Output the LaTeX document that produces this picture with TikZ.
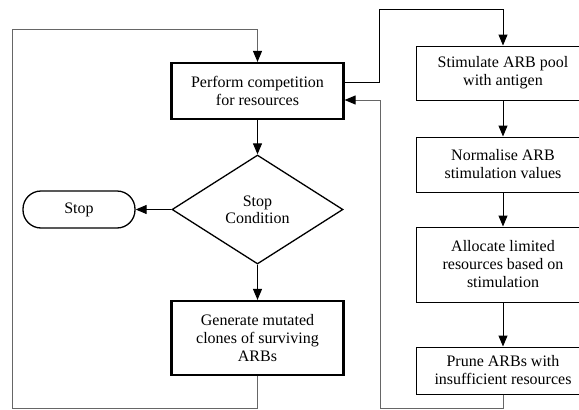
\documentclass[tikz,border=0pt]{standalone}
\usepackage{fontspec}
\setmainfont{Liberation Serif}
\usepackage{tikz}
\usetikzlibrary{shapes.geometric, arrows.meta}
\tikzstyle{process} = [rectangle, draw, line width=1pt, align=center, inner sep=0pt, minimum width=174pt, font=\fontsize{16}{18}\selectfont]
\tikzstyle{mainproc} = [rectangle, draw, line width=2.2pt, align=center, inner sep=0pt, minimum width=172pt, font=\fontsize{16}{18}\selectfont]
\tikzstyle{decision} = [diamond, draw, line width=1.3pt, align=center, inner sep=0pt, minimum width=171pt, minimum height=109pt, font=\fontsize{16}{17}\selectfont]
\tikzstyle{terminal} = [rectangle, rounded corners=18pt, draw, line width=1.3pt, inner sep=0pt, minimum width=112pt, minimum height=37pt, font=\fontsize{16}{18}\selectfont]
\tikzstyle{arrow} = [line width=1pt,-{Triangle[length=11pt,width=9pt]}]
\tikzstyle{loopline} = [arrow, draw=black!60, -{Triangle[length=11pt,width=9pt,fill=black,color=black]}]

\begin{document}
\begin{tikzpicture}[x=1pt, y=-1pt]
            \useasboundingbox (0,0) rectangle (579,410);
            \clip (0,0) rectangle (579,410);
            % left column
            \node[mainproc, minimum height=56pt] (perform) at (257.5,91) {Perform competition\\for resources};
            \node[decision] (cond) at (257.5,209.5) {Stop\\Condition};
            \node[terminal] (stop) at (79,209.5) {Stop};
            \node[mainproc, minimum height=74pt] (generate) at (257.5,338) {Generate mutated\\clones of surviving\\ARBs};
            % right column
            \node[process, minimum height=54pt] (stimulate) at (503,73) {Stimulate ARB pool\\with antigen};
            \node[process, minimum height=55pt] (normalise) at (503,164.5) {Normalise ARB\\stimulation values};
            \node[process, minimum height=75pt] (allocate) at (503,264.5) {Allocate limited\\resources based on\\stimulation};
            \node[process, minimum height=47pt] (prune) at (503,370.5) {Prune ARBs with\\insufficient resources};
            % corners of the loops
            \coordinate (lb) at (12.7,408);
            \coordinate (lt) at (12.7,29.5);
            \coordinate (ot) at (379,9);
            \coordinate (ib) at (380,408);
            \draw [arrow] (perform) -- (cond);
            \draw [arrow] (cond) -- (stop);
            \draw [arrow] (cond) -- (generate);
            \draw [arrow] (stimulate) -- (normalise);
            \draw [arrow] (normalise) -- (allocate);
            \draw [arrow] (allocate) -- (prune);
            \draw [arrow] ([yshift=9pt]perform.east) -| (ot) -| (stimulate.north);
            \draw [loopline] (generate.south) |- (lb) -- (lt) -| (perform.north);
            \draw [loopline] (prune.south) |- (ib) |- ([yshift=-9pt]perform.east);
        \end{tikzpicture}
\end{document}
